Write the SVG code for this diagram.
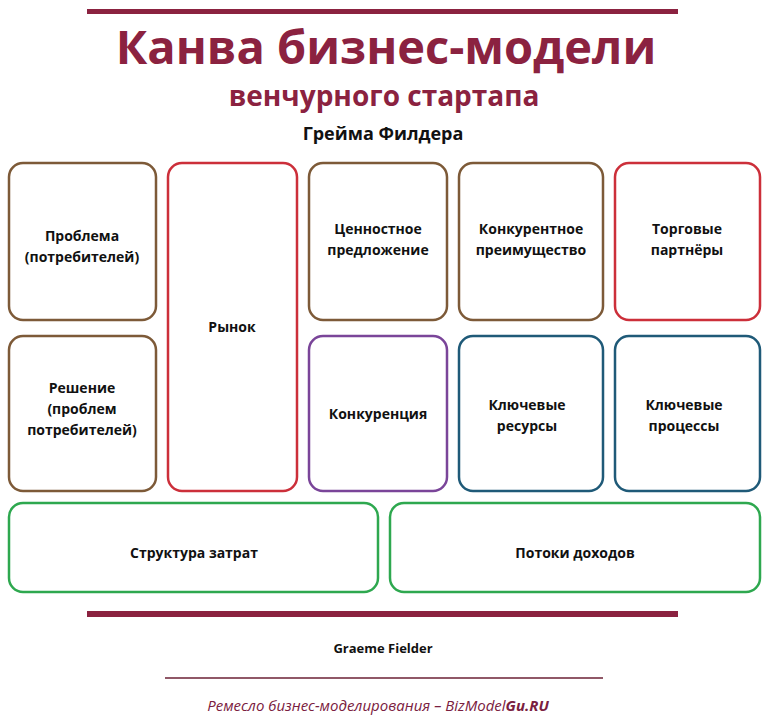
<svg xmlns="http://www.w3.org/2000/svg" width="768" height="726" viewBox="0 0 768 726">
<style>
.b{fill:#fff;stroke-width:2.5}
.t{font-family:"Open Sans","Noto Sans",sans-serif;font-weight:bold;font-size:14px;fill:#111;text-anchor:middle}
.br{stroke:#7d5a38}.rd{stroke:#cc2f3a}.pu{stroke:#7a4599}.te{stroke:#1f5a78}.gr{stroke:#2ea84f}
</style>
<rect width="768" height="726" fill="#fff"/>
<rect x="87" y="9" width="591" height="5" fill="#8b2240"/>
<text x="386" y="64" text-anchor="middle" font-family="Open Sans,sans-serif" font-weight="bold" font-size="47" fill="#8b2240">Канва бизнес-модели</text>
<text x="384" y="106" text-anchor="middle" font-family="Open Sans,sans-serif" font-weight="bold" font-size="28" fill="#8b2240">венчурного стартапа</text>
<text x="383" y="140" text-anchor="middle" font-family="Open Sans,sans-serif" font-weight="bold" font-size="18" fill="#111">Грейма Филдера</text>
<g id="n1"><rect class="b br" x="9" y="163" width="147" height="157" rx="14"/><text class="t" x="82" y="241">Проблема</text><text class="t" x="82" y="262">(потребителей)</text></g>
<g id="n2"><rect class="b br" x="9" y="336" width="147" height="155" rx="14"/><text class="t" x="82" y="393">Решение</text><text class="t" x="82" y="414">(проблем</text><text class="t" x="82" y="435">потребителей)</text></g>
<g id="n3"><rect class="b rd" x="168" y="163" width="129" height="328" rx="14"/><text class="t" x="232" y="332">Рынок</text></g>
<g id="n4"><rect class="b br" x="309" y="163" width="138" height="157" rx="14"/><text class="t" x="378" y="234">Ценностное</text><text class="t" x="378" y="255">предложение</text></g>
<g id="n5"><rect class="b pu" x="309" y="336" width="138" height="155" rx="14"/><text class="t" x="378" y="419">Конкуренция</text></g>
<g id="n6"><rect class="b br" x="459" y="163" width="144" height="157" rx="14"/><text class="t" x="531" y="234">Конкурентное</text><text class="t" x="531" y="255">преимущество</text></g>
<g id="n7"><rect class="b rd" x="615" y="163" width="145" height="157" rx="14"/><text class="t" x="687" y="234">Торговые</text><text class="t" x="687" y="255">партнёры</text></g>
<g id="n8"><rect class="b te" x="459" y="336" width="144" height="155" rx="14"/><text class="t" x="527" y="410">Ключевые</text><text class="t" x="527" y="431">ресурсы</text></g>
<g id="n9"><rect class="b te" x="615" y="336" width="145" height="155" rx="14"/><text class="t" x="684" y="410">Ключевые</text><text class="t" x="684" y="431">процессы</text></g>
<g id="n10"><rect class="b gr" x="9" y="503" width="369" height="89" rx="14"/><text class="t" x="194" y="558">Структура  затрат</text></g>
<g id="n11"><rect class="b gr" x="390" y="503" width="370" height="89" rx="14"/><text class="t" x="575" y="558">Потоки доходов</text></g>
<g id="connectors"></g>
<rect x="87" y="611" width="591" height="6" fill="#8b2240"/>
<text x="383" y="653" text-anchor="middle" font-family="Open Sans,sans-serif" font-weight="bold" font-size="13" fill="#111">Graeme Fielder</text>
<line x1="165" y1="678" x2="603" y2="678" stroke="#6b2035" stroke-width="1.5"/>
<text x="378" y="711" text-anchor="middle" font-family="Open Sans,sans-serif" font-style="italic" font-size="15" fill="#7a2040">Ремесло бизнес-моделирования – BizModel<tspan font-weight="bold">Gu.RU</tspan></text>
</svg>
